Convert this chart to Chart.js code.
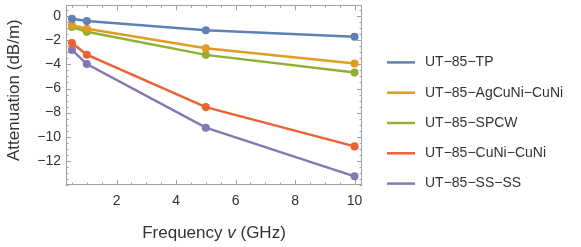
<!DOCTYPE html>
<html><head><meta charset="utf-8">
<script src="https://cdn.jsdelivr.net/npm/chart.js@4"></script>
<style>html,body{margin:0;padding:0;background:#fff}</style>
</head><body><canvas id="c" width="581" height="247"></canvas>
<script>
const frequencies = [0.5, 1, 5, 10];
const seriesNames = ["UT\u221285\u2212TP","UT\u221285\u2212AgCuNi\u2212CuNi","UT\u221285\u2212SPCW","UT\u221285\u2212CuNi\u2212CuNi","UT\u221285\u2212SS\u2212SS"];
const tp     = [-0.22, -0.41, -1.17, -1.71];
const agcuni = [-0.76, -1.04, -2.67, -3.92];
const spcw   = [-0.90, -1.30, -3.21, -4.68];
const cuni   = [-2.23, -3.20, -7.54, -10.80];
const ss     = [-2.80, -3.97, -9.25, -13.28];
const xTicks = [2, 4, 6, 8, 10];
const yTicks = [0, -2, -4, -6, -8, -10, -12];
const colors = ["#5E81B5", "#E19C24", "#8FB032", "#EB6235", "#8778B3"];
const seriesValues = [tp, agcuni, spcw, cuni, ss];

const FONT = "'Liberation Sans', Arial, sans-serif";
const TXT = "#333";

const datasets = seriesValues.map((vals, i) => ({
  label: seriesNames[i],
  data: frequencies.map((f, j) => ({x: f, y: vals[j]})),
  borderColor: colors[i],
  backgroundColor: colors[i],
  borderWidth: 2.5,
  pointRadius: 2.8,
  pointHoverRadius: 2.8,
  tension: 0
}));

const framePlugin = {
  id: 'frame',
  beforeDatasetsDraw(chart) {
    const {ctx, chartArea: a, scales: {x, y}} = chart;
    ctx.save();
    ctx.strokeStyle = '#a0a0a0';
    ctx.lineWidth = 1;
    ctx.strokeRect(Math.round(a.left) + 0.5, Math.round(a.top) + 0.5, Math.round(a.right - a.left) - 1, Math.round(a.bottom - a.top) - 1);
    ctx.beginPath();
    for (let v = 0.5; v <= 10.001; v += 0.5) {
      const px = Math.round(x.getPixelForValue(v)) + 0.5;
      const len = xTicks.includes(Math.round(v * 10) / 10) ? 5 : 2.5;
      ctx.moveTo(px, a.bottom); ctx.lineTo(px, a.bottom - len);
      ctx.moveTo(px, a.top); ctx.lineTo(px, a.top + len);
    }
    for (let v = -14; v <= 0.501; v += 0.5) {
      const py = Math.round(y.getPixelForValue(v)) + 0.5;
      const len = yTicks.includes(Math.round(v * 10) / 10) ? 5 : 2.5;
      ctx.moveTo(a.left, py); ctx.lineTo(a.left + len, py);
      ctx.moveTo(a.right, py); ctx.lineTo(a.right - len, py);
    }
    ctx.stroke();
    ctx.restore();
  },
  afterDraw(chart) {
    const {ctx, chartArea: a} = chart;
    ctx.save();
    // legend
    ctx.font = "14px " + FONT;
    ctx.textBaseline = 'middle';
    ctx.textAlign = 'left';
    chart.data.datasets.forEach((ds, i) => {
      const cy = chart.height / 2 + (i - 2) * 30.3 - 0.5;
      ctx.strokeStyle = ds.borderColor;
      ctx.lineWidth = 2.5;
      ctx.beginPath();
      ctx.moveTo(a.right + 25, cy); ctx.lineTo(a.right + 53, cy);
      ctx.stroke();
      ctx.fillStyle = TXT;
      ctx.fillText(ds.label, a.right + 63, cy);
    });
    // x title with italic v
    const parts = [["Frequency ", "17px " + FONT], ["v", "italic 17px " + FONT], [" (GHz)", "17px " + FONT]];
    let total = 0;
    parts.forEach(p => { ctx.font = p[1]; total += ctx.measureText(p[0]).width; });
    let sx = (a.left + a.right) / 2 - total / 2;
    ctx.fillStyle = TXT;
    parts.forEach(p => { ctx.font = p[1]; ctx.fillText(p[0], sx, 233); sx += ctx.measureText(p[0]).width; });
    // y title
    ctx.translate(14, (a.top + a.bottom) / 2 - 5);
    ctx.rotate(-Math.PI / 2);
    ctx.textAlign = 'center';
    ctx.font = "17px " + FONT;
    ctx.fillText("Attenuation (dB/m)", 0, 0);
    ctx.restore();
  }
};

const fmt = v => (v < 0 ? "\u2212" + Math.abs(v) : String(v));
const noPad = s => { s.paddingTop = 0; s.paddingBottom = 0; s.paddingLeft = 0; s.paddingRight = 0; };

new Chart(document.getElementById('c'), {
  type: 'line',
  data: {datasets},
  options: {
    responsive: false,
    animation: false,
    devicePixelRatio: 1,
    layout: {padding: {left: 0, top: 3, right: 219, bottom: 0}},
    plugins: {legend: {display: false}, tooltip: {enabled: false}},
    scales: {
      x: {
        type: 'linear', min: 0.3, max: 10.25,
        grid: {display: false, drawTicks: false}, border: {display: false},
        afterBuildTicks: s => { s.ticks = xTicks.map(v => ({value: v})); },
        afterFit: s => { s.height = 62; noPad(s); },
        ticks: {font: {size: 14, family: FONT}, color: TXT, padding: 8, callback: v => fmt(v), maxRotation: 0}
      },
      y: {
        type: 'linear', min: -14, max: 0.9,
        grid: {display: false, drawTicks: false}, border: {display: false},
        afterBuildTicks: s => { s.ticks = yTicks.map(v => ({value: v})); },
        afterFit: s => { s.width = 66; noPad(s); },
        ticks: {font: {size: 14, family: FONT}, color: TXT, padding: 5, callback: v => fmt(v)}
      }
    }
  },
  plugins: [framePlugin]
});
</script>
</body></html>
